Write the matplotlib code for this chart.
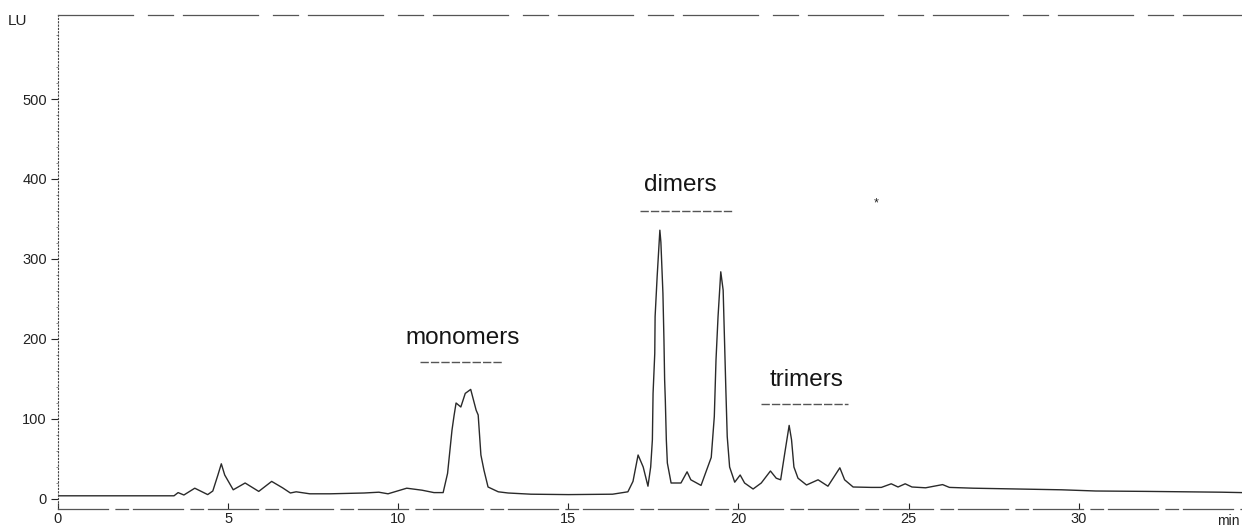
import matplotlib.pyplot as plt
import numpy as np

# chromatogram trace (time in min, signal in LU)
time_min = [0, 1.0, 2.0, 3.0, 3.41, 3.53, 3.7, 4.02, 4.4, 4.55, 4.7, 4.8, 4.9,
            5.15, 5.5, 5.9, 6.28, 6.6, 6.83, 7.0, 7.4, 8.0, 8.5, 9.0, 9.43, 9.7,
            10.25, 10.7, 11.05, 11.32, 11.45, 11.58, 11.64, 11.7, 11.84, 11.97,
            12.13, 12.29, 12.35, 12.43, 12.52, 12.64, 12.94, 13.23, 13.9, 15.0,
            16.3, 16.75, 16.9, 17.05, 17.2, 17.34, 17.42, 17.47, 17.49, 17.54,
            17.55, 17.61, 17.69, 17.72, 17.78, 17.81, 17.83, 17.85, 17.88, 17.91,
            18.02, 18.31, 18.49, 18.6, 18.9, 19.2, 19.29, 19.34, 19.4, 19.48,
            19.55, 19.63, 19.67, 19.74, 19.89, 20.05, 20.18, 20.43, 20.67, 20.94,
            21.11, 21.24, 21.36, 21.49, 21.56, 21.63, 21.75, 22.0, 22.34, 22.63,
            22.98, 23.12, 23.37, 23.9, 24.2, 24.49, 24.69, 24.9, 25.1, 25.5,
            26.0, 26.2, 26.9, 28.2, 29.5, 30.5, 32.0, 34.2, 34.8]
signal_lu = [4, 4, 4, 4, 4, 8, 5, 13.5, 5.5, 10, 30, 44, 30,
             11.5, 20, 9.5, 22, 14, 7.5, 9, 6.5, 6.5, 7, 7.5, 8.5, 6.5,
             13.5, 11, 8, 8, 32, 86, 104, 120, 115, 132,
             137, 111, 105, 55, 36, 15, 9, 7.5, 6, 5.5,
             6, 9, 22, 55, 40, 16, 40, 74, 132, 182,
             228, 278, 336, 321, 257, 199, 149, 124, 74, 45,
             20, 20, 34, 24, 17, 52, 103, 174, 228, 284,
             261, 136, 78, 40, 21, 30, 20, 12.5, 20, 35,
             26, 24, 57, 92, 74, 40, 26, 17.5, 24, 16,
             39, 24, 15, 14.5, 14.5, 19, 15, 19, 15, 14,
             18, 14.5, 13.5, 12.5, 11.5, 10, 9.5, 8.5, 8]

# fraction labels: name, text position, underline span
frac_names = ['monomers', 'dimers', 'trimers']
frac_text_t = [11.88, 18.28, 22.0]
frac_text_v = [201, 392, 149]
frac_line_t0 = [10.64, 17.11, 20.66]
frac_line_t1 = [13.08, 19.84, 23.22]
frac_line_v = [171, 360, 119]

x_ticks = [0, 5, 10, 15, 20, 25, 30]
y_ticks = [0, 100, 200, 300, 400, 500]

plt.rcParams['font.family'] = ['Liberation Sans', 'DejaVu Sans']

fig = plt.figure(figsize=(12.42, 5.29), dpi=100)
ax = fig.add_axes([58 / 1242, 20 / 529, 1 - 58 / 1242, 494 / 529])

ax.plot(time_min, signal_lu, color='#2a2a2a', linewidth=1.0)

for name, tx, tv, a, b, lv in zip(frac_names, frac_text_t, frac_text_v,
                                  frac_line_t0, frac_line_t1, frac_line_v):
    ax.text(tx, tv, name, fontsize=17.5, ha='center', va='center', color='#151515')
    ax.plot([a, b], [lv, lv], color='#555555', linewidth=1.0, linestyle=(0, (6, 1.5)))

# stray speck on the scan
ax.text(24.04, 370, '*', fontsize=9, ha='center', va='center', color='#222222')

ax.set_xlim(0, 34.8)
ax.set_ylim(-12.5, 605)

ax.set_xticks(x_ticks)
ax.set_xticklabels([str(t) for t in x_ticks])
ax.set_yticks(y_ticks)
ax.set_yticklabels([str(v) for v in y_ticks])
ax.set_yticks(np.arange(20, 600, 20), minor=True)

ax.tick_params(axis='y', which='major', direction='out', length=5, width=0.8,
               pad=3, labelsize=10.5, colors='#222222')
ax.tick_params(axis='y', which='minor', direction='out', length=1.5, width=0.6,
               colors='#777777')
ax.tick_params(axis='x', which='major', direction='in', length=4, width=0.8,
               pad=2, labelsize=10.5, colors='#222222')

ax.spines['right'].set_visible(False)
ax.spines['left'].set_color('#444444')
ax.spines['left'].set_linestyle((0, (1, 2)))
ax.spines['bottom'].set_color('#555555')
ax.spines['bottom'].set_linewidth(0.9)
ax.spines['bottom'].set_linestyle((0, (40, 6, 10, 4)))
ax.spines['top'].set_color('#555555')
ax.spines['top'].set_linewidth(0.9)
ax.spines['top'].set_linestyle((0, (60, 12, 20, 8)))

fig.text(8 / 1242, 1 - 21 / 529, 'LU', fontsize=11, ha='left', va='center', color='#222222')
fig.text(1240 / 1242, 8 / 529, 'min', fontsize=10, ha='right', va='center', color='#222222')

fig.savefig('out.png', dpi=100, facecolor='white')
